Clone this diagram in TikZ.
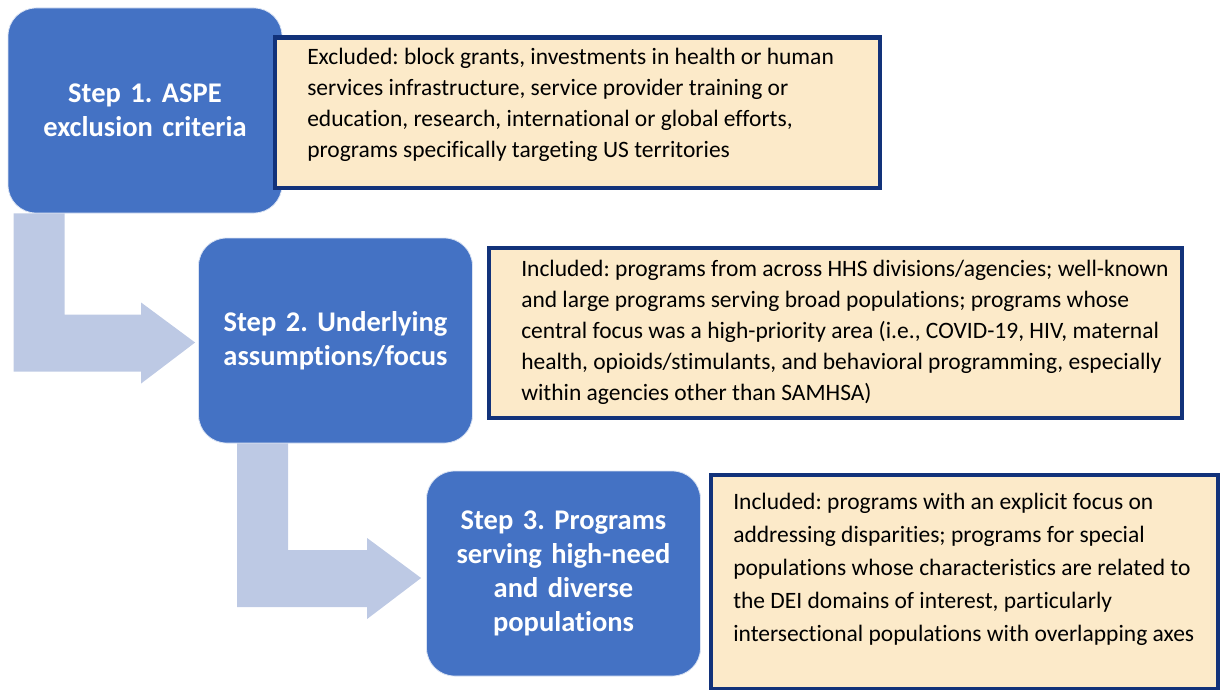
\documentclass[tikz,border=0pt]{standalone}
\usepackage{fontspec}
\setmainfont{Carlito}[Ligatures=NoCommon]
\usetikzlibrary{calc}
\frenchspacing

\definecolor{stepblue}{RGB}{68,114,196}
\definecolor{arrowblue}{RGB}{189,201,228}
\definecolor{notefill}{RGB}{252,234,201}
\definecolor{noteline}{RGB}{18,50,122}

% top-aligned text block of fixed width and height, lines may run past the right margin
\newcommand{\notetext}[3]{\parbox[c][#2][t]{#1}{\raggedright
    \rightskip=-40pt plus 1fil\relax #3}}

% bent arrow: #1 = top left of the stem, #2 = tip
\newcommand{\bentarrow}[2]{%
  \fill[flowarrow] (#1) -- ++(51,0) |- ($(#2)+(-54,-28)$) -- ++(0,-12)
    -- (#2) -- ++(-54,41) -- ++(0,-12) -| (#1) -- cycle;}

\begin{document}
\begin{tikzpicture}[
    x=1pt, y=-1pt,
    stepbox/.style={rectangle, rounded corners=28pt, fill=stepblue,
        draw=white!80!stepblue, line width=0.8pt,
        minimum width=274pt, minimum height=205pt, text width=265pt,
        align=center, text=white, font=\fontsize{28.5}{34}\selectfont\bfseries},
    notebox/.style={rectangle, anchor=north west, fill=notefill,
        draw=noteline, line width=4.5pt, inner xsep=32.5pt, inner ysep=10pt,
        text=black, font=\fontsize{23.5}{31}\selectfont},
    flowarrow/.style={fill=arrowblue},
]
\useasboundingbox (0,0) rectangle (1220,690);

% ---- steps ----
\node[stepbox] (step1) at (145,110.5) {Step 1. ASPE\\exclusion criteria};
\node[stepbox] (step2) at (335.5,340.5) {Step 2. Underlying\\assumptions/focus};
\node[stepbox] (step3) at (563.5,573.5) {Step 3. Programs\\serving high-need\\and diverse\\populations};

% ---- arrows between steps ----
\coordinate (stem1) at ($(step1.south west)+(6,0)$);
\coordinate (tip1) at ($(step2.west)+(-3,2)$);
\coordinate (stem2) at ($(step2.south west)+(39,0)$);
\coordinate (tip2) at ($(step3.west)+(-5,4.5)$);
\bentarrow{stem1}{tip1}
\bentarrow{stem2}{tip2}

% ---- criteria ----
\node[notebox] (note1) at (272.5,35.5) {\notetext{540pt}{130pt}{%
    Excluded: block grants, investments in health or human\\
    services infrastructure, service provider training or\\
    education, research, international or global efforts,\\
    programs specifically targeting US territories}};
\node[notebox, inner ysep=12pt] (note2) at (486.5,245.5) {\notetext{628pt}{146pt}{%
    Included: programs from across HHS divisions/agencies; well-known\\
    and large programs serving broad populations; programs whose\\
    central focus was a high-priority area (i.e., COVID-19, HIV, maternal\\
    health, opioids/stimulants, and behavioral programming, especially\\
    within agencies other than SAMHSA)}};
\node[notebox, inner xsep=22.5pt, inner ysep=18pt,
    font=\fontsize{23.5}{33}\selectfont] (note3) at (708.5,472.5) {\notetext{462pt}{178pt}{%
    Included: programs with an explicit focus on\\
    addressing disparities; programs for special\\
    populations whose characteristics are related to\\
    the DEI domains of interest, particularly\\
    intersectional populations with overlapping axes}};

\end{tikzpicture}
\end{document}
